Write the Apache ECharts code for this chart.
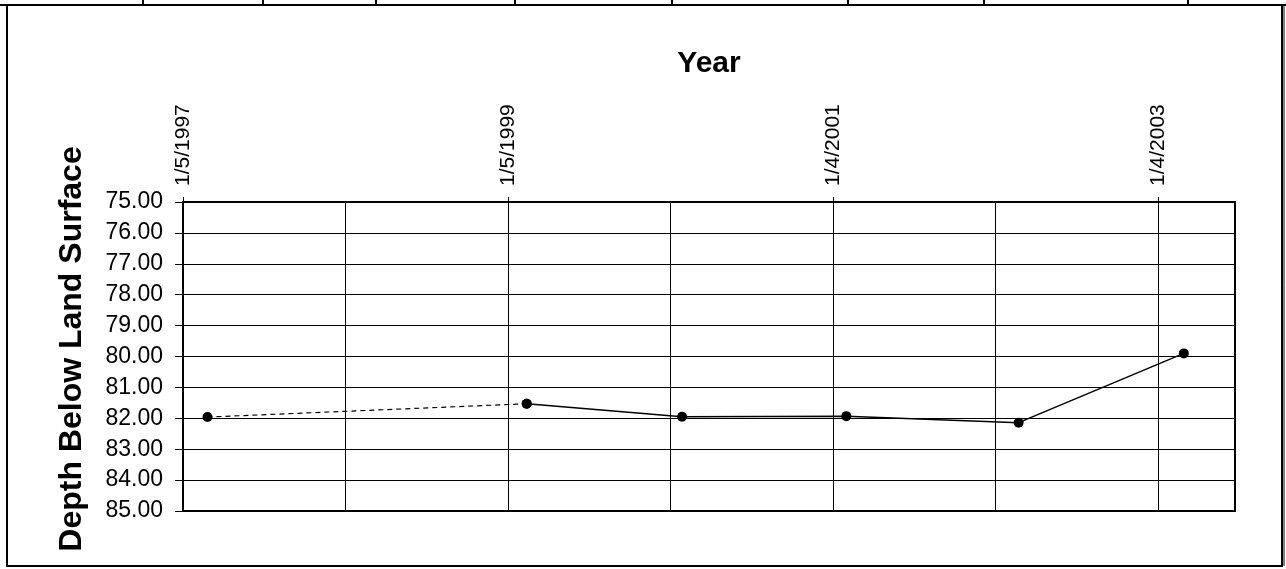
<!DOCTYPE html>
<html><head><meta charset="utf-8">
<script src="https://cdn.jsdelivr.net/npm/echarts@6/dist/echarts.min.js"></script>
<style>html,body{margin:0;padding:0;background:#fff}#c{width:1286px;height:569px}</style>
</head><body><div id="c"></div>
<script>
// ---- data ----
const sampleDates = ['1997-03-01', '1999-02-16', '2000-01-31', '2001-02-03', '2002-02-25', '2003-03-03'];
const depths = [81.96, 81.53, 81.95, 81.93, 82.14, 79.90];
const axisStartDate = '1997-01-05';
const axisEndDate = '2003-06-26';
const gridStepDays = 365;
const labelStepDays = 730;
const depthMin = 75;
const depthMax = 85;
const depthStep = 1;
const xTitle = 'Year';
const yTitle = 'Depth Below Land Surface';

// ---- helpers ----
const DAY = 86400000;
function toUTC(s) { const p = s.split('-').map(Number); return Date.UTC(p[0], p[1] - 1, p[2]); }
const t0 = toUTC(axisStartDate);
function dayOffset(s) { return Math.round((toUTC(s) - t0) / DAY); }
const xMax = dayOffset(axisEndDate);
const points = sampleDates.map((d, i) => [dayOffset(d), depths[i]]);
function fmtDate(v) {
  const dt = new Date(t0 + v * DAY);
  return (dt.getUTCMonth() + 1) + '/' + dt.getUTCDate() + '/' + dt.getUTCFullYear();
}
const FONT = "'Liberation Sans', Arial, sans-serif";

const chart = echarts.init(document.getElementById('c'), null, { renderer: 'canvas' });
chart.setOption({
  animation: false,
  backgroundColor: '#fff',
  textStyle: { fontFamily: FONT, color: '#000' },
  graphic: [
    { type: 'rect', z: 100, shape: { x: 7, y: 5, width: 1275, height: 561 },
      style: { fill: null, stroke: '#000', lineWidth: 2 } },
    { type: 'line', z: 100, shape: { x1: 0, y1: 5, x2: 1286, y2: 5 }, style: { stroke: '#000', lineWidth: 2 } },
    { type: 'line', z: 100, shape: { x1: 143, y1: 0, x2: 143, y2: 5 }, style: { stroke: '#000', lineWidth: 2 } },
    { type: 'line', z: 100, shape: { x1: 263, y1: 0, x2: 263, y2: 5 }, style: { stroke: '#000', lineWidth: 2 } },
    { type: 'line', z: 100, shape: { x1: 376, y1: 0, x2: 376, y2: 5 }, style: { stroke: '#000', lineWidth: 2 } },
    { type: 'line', z: 100, shape: { x1: 515, y1: 0, x2: 515, y2: 5 }, style: { stroke: '#000', lineWidth: 2 } },
    { type: 'line', z: 100, shape: { x1: 672, y1: 0, x2: 672, y2: 5 }, style: { stroke: '#000', lineWidth: 2 } },
    { type: 'line', z: 100, shape: { x1: 848, y1: 0, x2: 848, y2: 5 }, style: { stroke: '#000', lineWidth: 2 } },
    { type: 'line', z: 100, shape: { x1: 984, y1: 0, x2: 984, y2: 5 }, style: { stroke: '#000', lineWidth: 2 } },
    { type: 'line', z: 100, shape: { x1: 1188, y1: 0, x2: 1188, y2: 5 }, style: { stroke: '#000', lineWidth: 2 } },
    { type: 'line', z: 100, shape: { x1: 1284, y1: 5, x2: 1284, y2: 566 }, style: { stroke: '#000', lineWidth: 1 } }
  ],
  grid: {
    left: 183, top: 202, width: 1052, height: 309,
    show: true, borderColor: '#000', borderWidth: 2, backgroundColor: 'transparent'
  },
  xAxis: [
    {
      type: 'value', position: 'top', min: 0, max: xMax, interval: gridStepDays,
      axisLine: { show: false }, axisTick: { show: false }, axisLabel: { show: false },
      splitLine: { show: true, lineStyle: { color: '#000', width: 1 } }
    },
    {
      type: 'value', position: 'top', min: 0, max: xMax, interval: labelStepDays,
      name: xTitle, nameLocation: 'middle', nameGap: 123,
      nameTextStyle: { fontFamily: FONT, fontSize: 30, fontWeight: 'bold', color: '#000' },
      axisLine: { show: true, lineStyle: { color: '#000', width: 2 } },
      axisTick: { show: true, inside: false, length: 5, lineStyle: { color: '#000', width: 1 } },
      axisLabel: {
        show: true, rotate: -90, margin: 16, fontSize: 21, color: '#000', fontFamily: FONT,
        showMaxLabel: false,
        formatter: function (v) { return (v % labelStepDays === 0) ? fmtDate(v) : ''; }
      },
      splitLine: { show: false }
    }
  ],
  yAxis: {
    type: 'value', inverse: true, min: depthMin, max: depthMax, interval: depthStep,
    name: yTitle, nameLocation: 'middle', nameGap: 95,
    nameTextStyle: { fontFamily: FONT, fontSize: 32, fontWeight: 'bold', color: '#000', padding: [0, 0, 0, 15] },
    axisLine: { show: true, lineStyle: { color: '#000', width: 2 } },
    axisTick: { show: true, inside: false, length: 8, lineStyle: { color: '#000', width: 1 } },
    axisLabel: {
      margin: 20, fontSize: 23, color: '#000', fontFamily: FONT,
      formatter: function (v) { return v.toFixed(2); }
    },
    splitLine: { show: true, lineStyle: { color: '#000', width: 1 } }
  },
  series: [
    {
      type: 'line', xAxisIndex: 0, data: points.slice(0, 2),
      symbol: 'circle', symbolSize: 10, itemStyle: { color: '#000' },
      lineStyle: { color: '#000', width: 1.2, type: [5, 4] }, z: 3
    },
    {
      type: 'line', xAxisIndex: 0, data: points.slice(1),
      symbol: 'circle', symbolSize: 10, itemStyle: { color: '#000' },
      lineStyle: { color: '#000', width: 1.5 }, z: 4
    }
  ]
});
</script>
</body></html>
